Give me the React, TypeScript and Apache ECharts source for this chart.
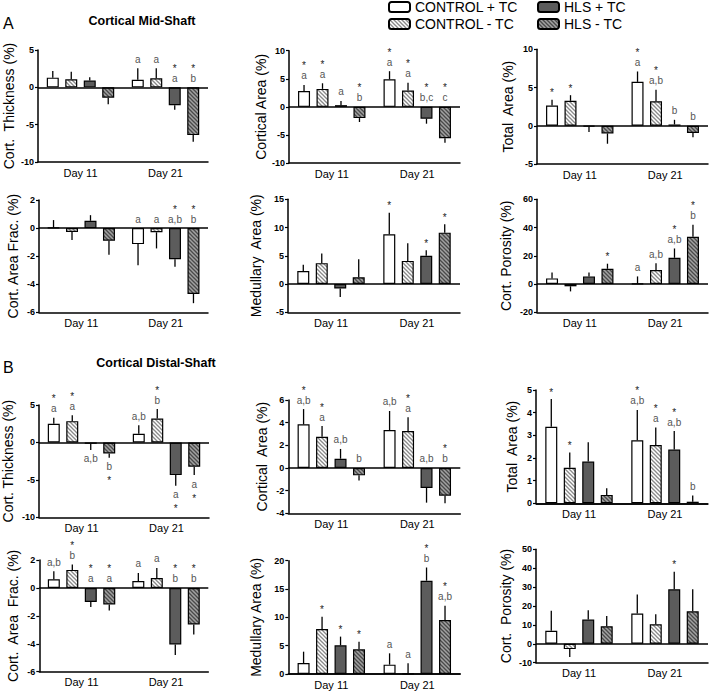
import React, { useEffect, useRef } from 'react';
import * as echarts from 'echarts';

const groups = ['CONTROL + TC', 'CONTROL - TC', 'HLS + TC', 'HLS - TC'];
const days = ['Day 11', 'Day 21'];

// Rows = groups (CONTROL+TC, CONTROL-TC, HLS+TC, HLS-TC); columns = [Day 11, Day 21]
// Notes: '*' prefix = significance star, followed by letter group label
// A — Cortical Mid-Shaft
const midThicknessMean = [[1.3, 1.0], [1.07, 1.2], [0.9, -2.4], [-1.38, -6.4]];
const midThicknessErr = [[0.9, 1.55], [1.03, 1.35], [0.45, 0.6], [0.9, 0.9]];
const midThicknessNotes = [['', 'a'], ['', 'a'], ['', '*a'], ['', '*b']];

const midAreaMean = [[2.82, 4.9], [3.2, 2.9], [0.3, -2.1], [-2.0, -5.6]];
const midAreaErr = [[1.08, 1.45], [1.0, 1.4], [0.75, 0.9], [0.7, 0.8]];
const midAreaNotes = [['*a', '*a'], ['*a', '*a'], ['a', '*b,c'], ['*b', '*c']];

const midTotalMean = [[2.65, 5.74], [3.26, 3.2], [-0.1, 0.17], [-1.0, -0.95]];
const midTotalErr = [[0.75, 1.36], [0.74, 1.5], [0.73, 0.61], [1.35, 0.55]];
const midTotalNotes = [['*', '*a'], ['*', '*a,b'], ['', 'b'], ['', 'b']];

const midFracMean = [[0.02, -1.14], [-0.28, -0.3], [0.52, -2.22], [-0.9, -4.69]];
const midFracErr = [[0.55, 1.51], [0.57, 1.15], [0.4, 0.53], [1.0, 0.66]];
const midFracNotes = [['', 'a'], ['', 'a'], ['', '*a,b'], ['', '*b']];

const midMedMean = [[2.3, 8.8], [3.7, 4.1], [-0.8, 5.0], [1.2, 9.1]];
const midMedErr = [[1.1, 3.8], [1.7, 3.1], [1.5, 1.0], [3.2, 1.5]];
const midMedNotes = [['', '*'], ['', ''], ['', '*'], ['', '*']];

const midPorMean = [[4.0, 0.3], [-1.6, 10.0], [5.4, 18.6], [10.8, 33.4]];
const midPorErr = [[4.2, 5.1], [3.6, 4.8], [2.8, 6.6], [3.6, 8.6]];
const midPorNotes = [['', 'a'], ['', 'a,b'], ['', '*a,b'], ['*', '*b']];

// B — Cortical Distal-Shaft
const distThicknessMean = [[2.5, 1.16], [2.84, 3.2], [-0.18, -4.36], [-1.47, -3.24]];
const distThicknessErr = [[0.8, 1.14], [0.8, 1.25], [0.82, 1.44], [0.57, 1.12]];
const distThicknessNotes = [['*a', 'a,b'], ['*a', '*b'], ['a,b', '*a'], ['*b', '*a']];

const distAreaMean = [[3.85, 3.35], [2.76, 3.26], [0.82, -1.76], [-0.65, -2.44]];
const distAreaErr = [[1.35, 1.68], [0.94, 1.21], [0.86, 1.3], [0.45, 0.68]];
const distAreaNotes = [['*a,b', 'a,b'], ['*a', '*a'], ['a,b', 'a,b'], ['b', '*b']];

const distTotalMean = [[3.38, 2.78], [1.57, 2.57], [1.84, 2.37], [0.37, 0.07]];
const distTotalErr = [[1.22, 1.34], [0.67, 0.77], [0.85, 0.82], [0.29, 0.27]];
const distTotalNotes = [['*', '*a,b'], ['*', '*a'], ['', '*a,b'], ['', 'b']];

const distFracMean = [[0.62, 0.5], [1.29, 0.71], [-1.0, -4.05], [-1.19, -2.62]];
const distFracErr = [[0.57, 0.57], [0.38, 0.72], [0.36, 0.76], [0.43, 0.71]];
const distFracNotes = [['a,b', 'a'], ['*b', 'a'], ['*a', '*b'], ['*a', '*b']];

const distMedMean = [[1.94, 1.65], [7.94, 0.05], [5.06, 16.47], [4.35, 9.53]];
const distMedErr = [[2.0, 2.0], [2.16, 1.85], [1.54, 2.33], [1.35, 2.53]];
const distMedNotes = [['', 'a'], ['*', 'a'], ['*', '*b'], ['*', '*a,b']];

const distPorMean = [[6.84, 16.0], [-2.8, 10.35], [12.8, 28.8], [9.3, 17.2]];
const distPorErr = [[10.6, 10.1], [4.2, 5.25], [4.9, 9.3], [5.4, 11.7]];
const distPorNotes = [['', ''], ['', ''], ['', '*'], ['', '']];

const FONT = '"Liberation Sans", Arial, Helvetica, sans-serif';
const BAR_W = 12;
const BAR_GAP = 0.54;
const SPACING = BAR_W * (1 + BAR_GAP);

type Panel = {
  name: string; mean: number[][]; err: number[][]; notes: string[][];
  min: number; max: number; interval: number;
  box: [number, number, number, number]; nameGap: number; negBelow: boolean;
};

const panels: Panel[] = [
  { name: 'Cort.  Thickness (%)', mean: midThicknessMean, err: midThicknessErr, notes: midThicknessNotes, min: -10, max: 5, interval: 5, box: [38, 50, 170, 112], nameGap: 22, negBelow: false },
  { name: 'Cortical Area (%)', mean: midAreaMean, err: midAreaErr, notes: midAreaNotes, min: -10, max: 10, interval: 5, box: [289, 50.7, 171, 112.3], nameGap: 20, negBelow: false },
  { name: 'Total  Area (%)', mean: midTotalMean, err: midTotalErr, notes: midTotalNotes, min: -5, max: 10, interval: 5, box: [537, 49.3, 171, 114.7], nameGap: 22, negBelow: false },
  { name: 'Cort. Area Frac. (%)', mean: midFracMean, err: midFracErr, notes: midFracNotes, min: -6, max: 2, interval: 2, box: [39, 200, 169, 112.3], nameGap: 19, negBelow: false },
  { name: 'Medullary  Area (%)', mean: midMedMean, err: midMedErr, notes: midMedNotes, min: -5, max: 15, interval: 5, box: [288, 199.3, 172, 113], nameGap: 25, negBelow: false },
  { name: 'Cort. Porosity (%)', mean: midPorMean, err: midPorErr, notes: midPorNotes, min: -20, max: 60, interval: 20, box: [537, 199.3, 171, 113], nameGap: 24, negBelow: false },
  { name: 'Cort. Thickness (%)', mean: distThicknessMean, err: distThicknessErr, notes: distThicknessNotes, min: -10, max: 5, interval: 5, box: [39, 405, 170, 112.3], nameGap: 24, negBelow: true },
  { name: 'Cortical  Area (%)', mean: distAreaMean, err: distAreaErr, notes: distAreaNotes, min: -4, max: 6, interval: 2, box: [288.3, 400, 172, 113.3], nameGap: 19, negBelow: false },
  { name: 'Total  Area (%)', mean: distTotalMean, err: distTotalErr, notes: distTotalNotes, min: 0, max: 5, interval: 1, box: [536, 390, 172, 113.3], nameGap: 17, negBelow: false },
  { name: 'Cort.  Area  Frac. (%)', mean: distFracMean, err: distFracErr, notes: distFracNotes, min: -6, max: 2, interval: 2, box: [39.3, 560, 169, 111.7], nameGap: 19, negBelow: false },
  { name: 'Medullary Area (%)', mean: distMedMean, err: distMedErr, notes: distMedNotes, min: 0, max: 20, interval: 5, box: [288.3, 560.7, 172, 113.3], nameGap: 25, negBelow: false },
  { name: 'Cort.  Porosity (%)', mean: distPorMean, err: distPorErr, notes: distPorNotes, min: -10, max: 50, interval: 10, box: [536, 549.3, 172, 113.4], nameGap: 23, negBelow: false },
];

// Diagonal "\\\\" hatch tile drawn on a canvas
function hatch(bg: string, stroke: string) {
  const s = 4;
  const c = document.createElement('canvas');
  c.width = s;
  c.height = s;
  const ctx = c.getContext('2d')!;
  ctx.fillStyle = bg;
  ctx.fillRect(0, 0, s, s);
  ctx.strokeStyle = stroke;
  ctx.lineWidth = 1.3;
  for (const k of [-s, 0, s]) {
    ctx.beginPath();
    ctx.moveTo(-1 + k, -1);
    ctx.lineTo(s + 1 + k, s + 1);
    ctx.stroke();
  }
  return { image: c, repeat: 'repeat' };
}

function buildOption() {
  const fills: any[] = ['#ffffff', hatch('#ffffff', '#8a8a8a'), '#5c5c5c', hatch('#a2a2a2', '#4a4a4a')];
  const grid: any[] = [];
  const xAxis: any[] = [];
  const yAxis: any[] = [];
  const series: any[] = [];

  panels.forEach((p, i) => {
    grid.push({ left: p.box[0], top: p.box[1], width: p.box[2], height: p.box[3], containLabel: false, outerBoundsMode: 'none' });
    xAxis.push({
      type: 'category', gridIndex: i, data: days, position: 'bottom',
      axisLine: { show: true, onZero: false, lineStyle: { color: '#000', width: 1.5 } },
      axisTick: { show: false },
      axisLabel: { interval: 0, fontSize: 11, color: '#000', margin: 5, fontFamily: FONT },
      splitLine: { show: false },
    });
    yAxis.push({
      type: 'value', gridIndex: i, min: p.min, max: p.max, interval: p.interval,
      axisLine: { show: true, lineStyle: { color: '#000', width: 1.5 } },
      axisTick: { show: true, length: 3, lineStyle: { color: '#000', width: 1.2 } },
      axisLabel: { fontSize: 9, fontWeight: 'bold', color: '#000', margin: 4, fontFamily: FONT },
      splitLine: { show: false },
      name: p.name, nameLocation: 'middle', nameGap: p.nameGap,
      nameTextStyle: { fontSize: 14, color: '#000', fontFamily: FONT },
    });
    groups.forEach((gName, g) => {
      const s: any = {
        type: 'bar', name: gName, xAxisIndex: i, yAxisIndex: i, data: p.mean[g],
        barWidth: BAR_W, barGap: Math.round(BAR_GAP * 100) + '%',
        itemStyle: { color: fills[g], borderColor: '#000', borderWidth: 1.2 }, silent: true,
        emphasis: { disabled: true },
      };
      if (g === 0) {
        s.markLine = {
          silent: true, symbol: ['none', 'none'], label: { show: false },
          lineStyle: { color: '#000', width: 1.5, type: 'solid' }, data: [{ yAxis: 0 }],
          emphasis: { disabled: true },
        };
      }
      series.push(s);
    });
    const errData: number[][] = [];
    for (let g = 0; g < 4; g++) {
      for (let d = 0; d < 2; d++) errData.push([d, p.mean[g][d], p.err[g][d], g]);
    }
    series.push({
      type: 'custom', xAxisIndex: i, yAxisIndex: i, data: errData, silent: true, clip: false, z: 5,
      encode: { x: 0, y: 1 },
      renderItem: (_params: any, api: any) => {
        const d = api.value(0) as number;
        const mean = api.value(1) as number;
        const err = api.value(2) as number;
        const g = api.value(3) as number;
        const note = p.notes[g][d];
        const base = api.coord([d, mean]);
        const x = base[0] + (g - 1.5) * SPACING;
        const end = mean + (mean >= 0 ? err : -err);
        const endPt = api.coord([d, end]);
        const zeroPt = api.coord([d, 0]);
        const children: any[] = [{
          type: 'line', shape: { x1: x, y1: base[1], x2: x, y2: endPt[1] },
          style: { stroke: '#000', lineWidth: 1.3 },
        }];
        if (note) {
          const star = note.charAt(0) === '*';
          const letters = star ? note.slice(1) : note;
          const below = mean < 0 && p.negBelow;
          const anchor = below ? endPt[1] : (mean >= 0 ? endPt[1] : zeroPt[1]);
          const dir = below ? 1 : -1;
          let y = anchor + dir * 9;
          if (letters) {
            children.push({
              type: 'text', x, y,
              style: { text: letters, fontSize: 10, fontFamily: FONT, fill: '#555', align: 'center', verticalAlign: 'middle', textAlign: 'center', textVerticalAlign: 'middle' },
            });
            y += dir * 12;
          }
          if (star) {
            children.push({
              type: 'text', x, y: y + 2,
              style: { text: '*', fontSize: 10, fontFamily: FONT, fill: '#222', align: 'center', verticalAlign: 'middle', textAlign: 'center', textVerticalAlign: 'middle' },
            });
          }
        }
        return { type: 'group', children };
      },
    });
  });

  const legendPos = [[388, 0], [388, 17], [537, 0], [537, 17]];
  const legend = groups.map((gName, g) => ({
    data: [gName], left: legendPos[g][0], top: legendPos[g][1], padding: 0,
    itemWidth: 21, itemHeight: 10, selectedMode: false,
    textStyle: { fontSize: 14, color: '#000', fontFamily: FONT },
  }));

  const graphic = [
    { type: 'text', x: 3, y: 23, style: { text: 'A', fontSize: 16, fontFamily: FONT, fill: '#000', verticalAlign: 'middle', textVerticalAlign: 'middle' } },
    { type: 'text', x: 142, y: 21, style: { text: 'Cortical Mid-Shaft', fontSize: 12.5, fontWeight: 'bold', fontFamily: FONT, fill: '#000', align: 'center', textAlign: 'center', verticalAlign: 'middle', textVerticalAlign: 'middle' } },
    { type: 'text', x: 3, y: 367, style: { text: 'B', fontSize: 16, fontFamily: FONT, fill: '#000', verticalAlign: 'middle', textVerticalAlign: 'middle' } },
    { type: 'text', x: 156, y: 363, style: { text: 'Cortical Distal-Shaft', fontSize: 12.5, fontWeight: 'bold', fontFamily: FONT, fill: '#000', align: 'center', textAlign: 'center', verticalAlign: 'middle', textVerticalAlign: 'middle' } },
  ];

  return {
    animation: false,
    backgroundColor: '#fff',
    textStyle: { fontFamily: FONT },
    grid, xAxis, yAxis, series, legend, graphic,
  };
}

export default function App() {
  const ref = useRef<HTMLDivElement>(null);
  useEffect(() => {
    if (!ref.current) return;
    const chart = echarts.init(ref.current, undefined, { renderer: 'svg' });
    chart.setOption(buildOption() as any);
    return () => chart.dispose();
  }, []);
  return <div ref={ref} style={{ position: 'absolute', left: 0, top: 0, width: 709, height: 691 }} />;
}
